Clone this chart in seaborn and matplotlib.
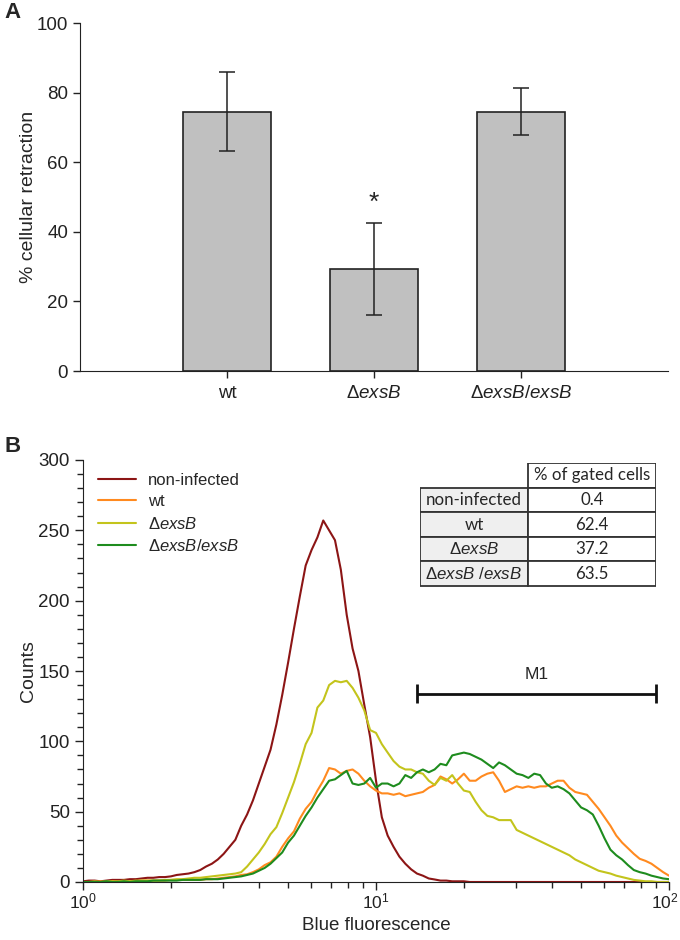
import matplotlib
matplotlib.use('Agg')
import matplotlib.pyplot as plt
import seaborn as sns
from matplotlib import patches
from matplotlib.ticker import MultipleLocator, NullFormatter
from matplotlib.transforms import ScaledTranslation, blended_transform_factory
import numpy as np
import pandas as pd

# ---- panel A data ----
strains = ['wt', r'$\Delta\mathit{exsB}$', r'$\Delta\mathit{exsB/exsB}$']
retraction = [74.5, 29.3, 74.5]
retraction_err = [11.3, 13.2, 6.8]
significant = [False, True, False]

# ---- panel B data (histogram channels, log scale) ----
fluorescence = [1.000, 1.047, 1.096, 1.148, 1.202, 1.259, 1.318, 1.380, 1.445, 1.514,
                1.585, 1.660, 1.738, 1.820, 1.905, 1.995, 2.089, 2.188, 2.291, 2.399,
                2.512, 2.630, 2.754, 2.884, 3.020, 3.162, 3.311, 3.467, 3.631, 3.802,
                3.981, 4.169, 4.365, 4.571, 4.786, 5.012, 5.248, 5.495, 5.754, 6.026,
                6.310, 6.607, 6.918, 7.244, 7.586, 7.943, 8.318, 8.710, 9.120, 9.550,
                10.00, 10.47, 10.96, 11.48, 12.02, 12.59, 13.18, 13.80, 14.45, 15.14,
                15.85, 16.60, 17.38, 18.20, 19.05, 19.95, 20.89, 21.88, 22.91, 23.99,
                25.12, 26.30, 27.54, 28.84, 30.20, 31.62, 33.11, 34.67, 36.31, 38.02,
                39.81, 41.69, 43.65, 45.71, 47.86, 50.12, 52.48, 54.95, 57.54, 60.26,
                63.10, 66.07, 69.18, 72.44, 75.86, 79.43, 83.18, 87.10, 91.20, 95.50,
                100.0]

counts_noninf = [0.5, 1, 1, 0.5, 1, 1.5, 1.5, 1.5, 2, 2,
                 2.5, 3, 3, 3.5, 3.5, 4, 5, 5.5, 6, 7,
                 8.5, 11, 13, 16, 20, 25, 30, 40, 48, 58,
                 70, 82, 94, 112, 133, 156, 180, 203, 225, 236,
                 245, 257, 250, 243, 222, 190, 166, 150, 126, 103,
                 72, 46, 33, 25, 18, 13, 9, 6, 4.5, 2.5,
                 1.8, 1, 1, 0.5, 0.5, 0.5, 0, 0, 0, 0,
                 0, 0, 0, 0, 0, 0, 0, 0, 0, 0,
                 0, 0, 0, 0, 0, 0, 0, 0, 0, 0,
                 0, 0, 0, 0, 0, 0, 0, 0, 0, 0,
                 0]

counts_wt = [0, 0, 0, 0.5, 0, 0.5, 0, 0.5, 0.5, 0.5,
             1, 1, 1, 1, 1, 1.5, 1.5, 1.5, 1.5, 1.5,
             1.5, 2, 2, 2.5, 3, 3.5, 4, 5, 5.5, 7,
             9, 12, 14, 18, 25, 31, 36, 45, 52, 57,
             65, 72, 81, 80, 77, 79, 80, 77, 72, 68,
             65, 63, 63, 62, 63, 61, 62, 63, 64, 67,
             69, 75, 73, 70, 73, 77, 72, 72, 75, 77,
             78, 72, 64, 66, 68, 67, 68, 67, 68, 68,
             70, 72, 72, 67, 64, 63, 62, 57, 52, 46,
             40, 33, 28, 24, 20, 16.5, 15, 13, 10, 7,
             4.5]

counts_exsb = [0, 0, 0.5, 0, 0.5, 0.5, 0.5, 1, 0.5, 1,
               1, 1, 1, 1, 1.5, 1.5, 2, 2, 2.5, 3,
               3, 3.5, 4, 4.5, 5, 5.5, 6, 7, 11, 16,
               21, 27, 34, 39, 49, 60, 71, 84, 98, 106,
               124, 129, 140, 143, 142, 143, 138, 131, 122, 108,
               106, 98, 92, 86, 82, 80, 80, 78, 77, 72,
               69, 74, 72, 76, 70, 65, 64, 57, 51, 47,
               46, 44, 44, 44, 37, 35, 33, 31, 29, 27,
               25, 23, 21, 19, 16, 14, 12, 10, 8, 7,
               6, 4.5, 3.5, 2.5, 1.5, 1, 0.5, 0.5, 0, 0,
               0]

counts_compl = [0, 0, 0, 0, 0.5, 0, 0, 0.5, 0, 0.5,
                0.5, 0.5, 1, 1, 1, 1, 1, 1.5, 1.5, 1.5,
                1.5, 2, 2, 2, 2.5, 3, 3.5, 4, 5, 6,
                8, 10, 13, 17, 21, 28, 33, 40, 47, 53,
                60, 66, 72, 73, 76, 79, 70, 69, 70, 74,
                67, 70, 70, 68, 70, 76, 74, 78, 80, 78,
                80, 84, 83, 90, 91, 92, 91, 89, 87, 84,
                81, 85, 83, 80, 77, 76, 74, 77, 76, 70,
                67, 68, 66, 63, 58, 53, 51, 48, 40, 31,
                23, 19, 16, 12, 8.5, 7, 6, 4.5, 3.5, 2.5,
                2]

series_names = ['non-infected', 'wt', r'$\Delta\mathit{exsB}$', r'$\Delta\mathit{exsB/exsB}$']
series_colors = ['#8c1515', '#ff8a1f', '#c3c41c', '#1e8c1e']

decades = [1, 10, 100]
decade_labels = [r'$10^0$', r'$10^1$', r'$10^2$']

# gate M1 and table
gate_lo, gate_hi, gate_y = 13.8, 90.3, 134
table_labels = ['non-infected', 'wt', r'$\Delta\mathit{exsB}$', r'$\Delta\mathit{exsB\ /exsB}$']
gated_pct = ['0.4', '62.4', '37.2', '63.5']

sns.set_style('ticks')
plt.rcParams['font.family'] = ['Liberation Sans', 'DejaVu Sans']
plt.rcParams['mathtext.fontset'] = 'custom'
plt.rcParams['mathtext.rm'] = 'Liberation Sans'
plt.rcParams['mathtext.it'] = 'Liberation Sans:italic'
plt.rcParams['mathtext.bf'] = 'Liberation Sans:bold'
plt.rcParams['axes.edgecolor'] = '#222222'
plt.rcParams['xtick.color'] = '#222222'
plt.rcParams['ytick.color'] = '#222222'

fig = plt.figure(figsize=(6.8, 9.4), dpi=100)

# ---------------- Panel A ----------------
axA = fig.add_axes([80 / 680, 1 - 371 / 940, 588 / 680, 348 / 940])
sns.barplot(x=strains, y=retraction, color='#c0c0c0', edgecolor='#222222',
            linewidth=1.2, width=0.6, errorbar=None, saturation=1, ax=axA)
axA.errorbar(x=np.arange(len(strains)), y=retraction, yerr=retraction_err, fmt='none',
             ecolor='#222222', elinewidth=1.1, capsize=6, capthick=1.1)
for i, sig in enumerate(significant):
    if sig:
        axA.text(i, retraction[i] + retraction_err[i] + 2.5, '*', ha='center', va='bottom',
                 fontsize=19)
axA.set_xlim(-1, 3)
axA.set_ylim(0, 100)
axA.yaxis.set_major_locator(MultipleLocator(20))
axA.set_ylabel('% cellular retraction', fontsize=14, labelpad=0)
axA.set_xlabel('')
axA.tick_params(axis='both', labelsize=13.5, length=5, width=1, direction='out')
axA.tick_params(axis='x', pad=5)
sns.despine(ax=axA)
fig.text(4 / 680, 1 - 13 / 940, 'A', fontsize=16, fontweight='bold', va='center')

# ---------------- Panel B ----------------
axB = fig.add_axes([83 / 680, 1 - 882 / 940, 586 / 680, 422 / 940])
frames = []
for name, vals in zip(series_names, [counts_noninf, counts_wt, counts_exsb, counts_compl]):
    frames.append(pd.DataFrame({'fluorescence': fluorescence, 'counts': vals, 'strain': name}))
df = pd.concat(frames, ignore_index=True)
sns.lineplot(data=df, x='fluorescence', y='counts', hue='strain', hue_order=series_names,
             palette=series_colors, linewidth=1.5, ax=axB)
axB.set_xscale('log')
axB.set_xlim(1, 100)
axB.set_ylim(0, 300)
axB.yaxis.set_major_locator(MultipleLocator(50))
axB.yaxis.set_minor_locator(MultipleLocator(10))
axB.tick_params(axis='both', which='major', labelsize=13.5, length=6, width=1, direction='out')
axB.tick_params(axis='both', which='minor', length=4, width=1, direction='out')
axB.xaxis.set_major_formatter(NullFormatter())
# decade labels drawn as texts so the last one can be nudged inside the canvas
trans = blended_transform_factory(axB.transData, axB.transAxes)
for k, (d, lab) in enumerate(zip(decades, decade_labels)):
    t = trans
    if k == len(decades) - 1:
        t = trans + ScaledTranslation(-3 / 72, 0, fig.dpi_scale_trans)
    axB.text(d, -0.022, lab, transform=t, ha='center', va='top', fontsize=12.5, color='#222222')
axB.set_xlabel('Blue fluorescence', fontsize=13.5, labelpad=16)
axB.set_ylabel('Counts', fontsize=14, labelpad=1)
sns.despine(ax=axB)

leg = axB.legend(loc='upper left', bbox_to_anchor=(0.0, 1.005), frameon=False, fontsize=12,
                 handlelength=2.3, handletextpad=0.7, labelspacing=0.38)
for line in leg.get_lines():
    line.set_linewidth(1.5)

# gate M1
axB.hlines(gate_y, gate_lo, gate_hi, color='#111111', linewidth=2)
axB.vlines([gate_lo, gate_hi], gate_y - 7, gate_y + 7, color='#111111', linewidth=2)
axB.text(np.sqrt(gate_lo * gate_hi), gate_y + 8, 'M1', ha='center', va='bottom', fontsize=12.5)

fig.text(4 / 680, 1 - 447 / 940, 'B', fontsize=16, fontweight='bold', va='center')

# table of gated cells
axT = fig.add_axes([420 / 680, 1 - 588 / 940, 236 / 680, 125 / 940])
axT.set_xlim(0, 236)
axT.set_ylim(125, 0)
axT.axis('off')
col_split = 108
row_h = 24.6
edge = '#333333'
axT.add_patch(patches.Rectangle((col_split, 0), 236 - col_split, row_h, facecolor='white',
                                edgecolor=edge, linewidth=1.3))
axT.text((col_split + 236) / 2, row_h / 2, '% of gated cells', ha='center', va='center',
         fontsize=12.2, family='Lato')
for r, (lab, pct) in enumerate(zip(table_labels, gated_pct)):
    y0 = row_h * (r + 1)
    axT.add_patch(patches.Rectangle((0, y0), col_split, row_h, facecolor='#efefef',
                                    edgecolor=edge, linewidth=1.3))
    axT.add_patch(patches.Rectangle((col_split, y0), 236 - col_split, row_h, facecolor='white',
                                    edgecolor=edge, linewidth=1.3))
    fam = 'Lato' if not lab.startswith('$') else None
    axT.text(col_split / 2, y0 + row_h / 2, lab, ha='center', va='center', fontsize=12.2,
             family=fam)
    axT.text((col_split + 236) / 2, y0 + row_h / 2, pct, ha='center', va='center',
             fontsize=12.2, family='Lato')

fig.savefig('out.png', dpi=100)
